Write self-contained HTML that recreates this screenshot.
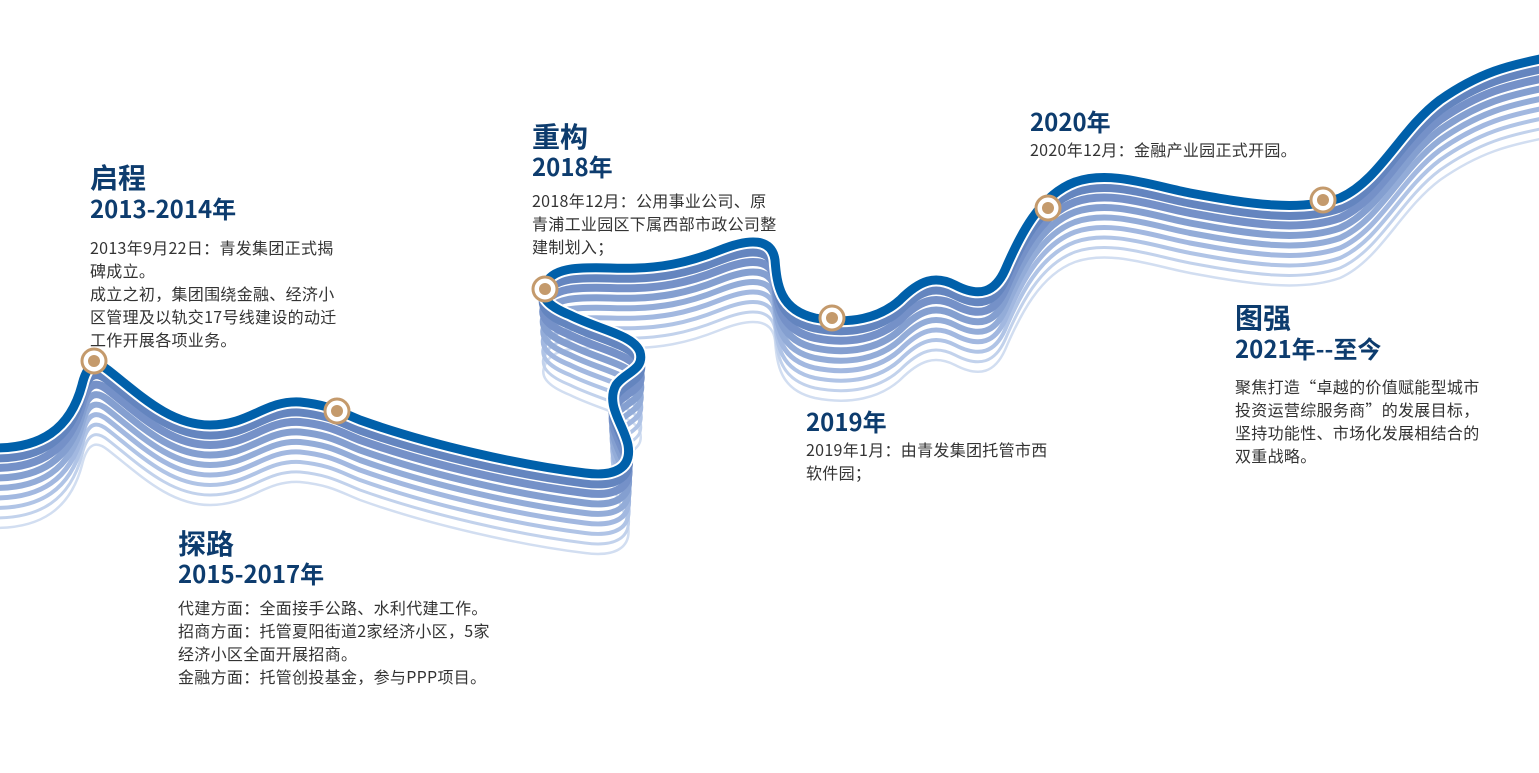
<!DOCTYPE html>
<html><head><meta charset="utf-8"><style>
body{margin:0;width:1539px;height:773px;background:#fff;position:relative;overflow:hidden;font-family:"Noto Sans CJK SC","Liberation Sans",sans-serif}
.t{position:absolute;color:#0d3c6e;font-weight:bold;font-size:28px;line-height:32px;white-space:nowrap}
.y{position:absolute;color:#0d3c6e;font-weight:bold;font-size:24px;line-height:26px;white-space:nowrap}
.b{position:absolute;color:#333;font-size:16px;line-height:23px;white-space:nowrap;letter-spacing:0.3px}
svg{position:absolute;left:0;top:0}
</style></head><body>
<svg width="1539" height="773" viewBox="0 0 1539 773">
<defs>
<path id="p" fill="none" stroke-linecap="round" d="M-5,448 C40,448 70,430 82,385 C88,360 98,362 108,370 C140,395 170,425 210,425 C250,425 265,400 300,402 C330,405 340,412 360,420 C430,445 520,465 585,473 C615,477 632,468 628,445 C624,425 605,405 616,385 C625,372 645,370 640,352 C634,335 600,330 570,315 C545,305 540,295 545,285 C552,268 575,267 610,268 C660,270 690,262 720,250 C750,238 772,238 775,260 C777,285 780,310 815,318 C850,325 880,318 900,300 C920,280 935,275 955,285 C980,298 995,292 1005,270 C1020,235 1040,195 1075,182 C1110,170 1150,185 1190,193 C1250,204 1300,212 1340,198 C1380,180 1400,130 1440,100 C1480,72 1510,65 1545,58"/>
</defs>
<g>
<use href="#p" stroke="#d2def1" stroke-width="2.5" transform="translate(0,80)"/>
<use href="#p" stroke="#c2d2ec" stroke-width="3" transform="translate(0,70)"/>
<use href="#p" stroke="#b0c4e6" stroke-width="4" transform="translate(0,60)"/>
<use href="#p" stroke="#a2b8e0" stroke-width="5" transform="translate(0,50)"/>
<use href="#p" stroke="#93acd8" stroke-width="6" transform="translate(0,40)"/>
<use href="#p" stroke="#849fd0" stroke-width="7" transform="translate(0,30)"/>
<use href="#p" stroke="#7591c8" stroke-width="8" transform="translate(0,20)"/>
<use href="#p" stroke="#6485bf" stroke-width="9" transform="translate(0,10)"/>
<use href="#p" stroke="#fff" stroke-width="13"/>
<use href="#p" stroke="#0060aa" stroke-width="9"/>
</g>
<g fill="#fff" stroke="#c49a6c" stroke-width="3">
<circle cx="94" cy="361" r="12"/><circle cx="337" cy="411" r="12"/><circle cx="545" cy="289" r="12"/>
<circle cx="832" cy="318" r="12"/><circle cx="1048" cy="208" r="12"/><circle cx="1323" cy="200" r="12"/>
</g>
<g fill="#c49a6c">
<circle cx="94" cy="361" r="6"/><circle cx="337" cy="411" r="6"/><circle cx="545" cy="289" r="6"/>
<circle cx="832" cy="318" r="6"/><circle cx="1048" cy="208" r="6"/><circle cx="1323" cy="200" r="6"/>
</g>
</svg>

<div class="t" style="left:90px;top:161px">启程</div>
<div class="y" style="left:90px;top:195px">2013-2014年</div>
<div class="b" style="left:90px;top:236px">2013年9月22日：青发集团正式揭<br>碑成立。<br>成立之初，集团围绕金融、经济小<br>区管理及以轨交17号线建设的动迁<br>工作开展各项业务。</div>

<div class="t" style="left:178px;top:527px">探路</div>
<div class="y" style="left:178px;top:560px">2015-2017年</div>
<div class="b" style="left:178px;top:596px">代建方面：全面接手公路、水利代建工作。<br>招商方面：托管夏阳街道2家经济小区，5家<br>经济小区全面开展招商。<br>金融方面：托管创投基金，参与PPP项目。</div>

<div class="t" style="left:532px;top:120px">重构</div>
<div class="y" style="left:532px;top:153px">2018年</div>
<div class="b" style="left:532px;top:189px">2018年12月：公用事业公司、原<br>青浦工业园区下属西部市政公司整<br>建制划入；</div>

<div class="y" style="left:1030px;top:108px">2020年</div>
<div class="b" style="left:1030px;top:138px">2020年12月：金融产业园正式开园。</div>

<div class="y" style="left:806px;top:408px">2019年</div>
<div class="b" style="left:806px;top:438px">2019年1月：由青发集团托管市西<br>软件园；</div>

<div class="t" style="left:1235px;top:301px">图强</div>
<div class="y" style="left:1235px;top:335px">2021年--至今</div>
<div class="b" style="left:1235px;top:375px">聚焦打造“卓越的价值赋能型城市<br>投资运营综服务商”的发展目标，<br>坚持功能性、市场化发展相结合的<br>双重战略。</div>
</body></html>
